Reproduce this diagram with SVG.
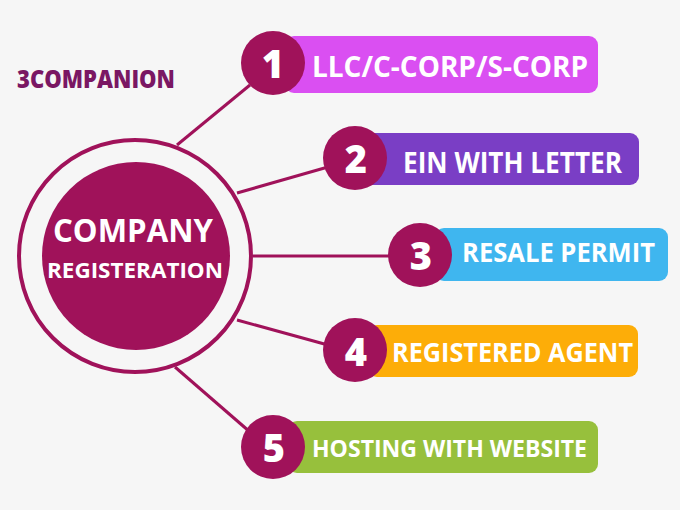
<svg xmlns="http://www.w3.org/2000/svg" width="680" height="510" viewBox="0 0 680 510">
<style>
.bg{fill:#f6f6f6}
.con{stroke:#a0125a;stroke-width:3;fill:none}
.num{fill:#a0125a}
.numt{fill:#ffffff;font-family:"Open Sans","Liberation Sans",sans-serif;font-weight:800;text-anchor:middle}
.lbl{fill:#ffffff;font-family:"Open Sans","Liberation Sans",sans-serif;font-weight:700}
.ctr{fill:#ffffff;font-family:"Open Sans","Liberation Sans",sans-serif;font-weight:700;text-anchor:middle}
</style>
<rect class="bg" x="0" y="0" width="680" height="510"/>
<text x="17" y="88" font-family="'Open Sans','Liberation Sans',sans-serif" font-weight="800" font-size="24" fill="#7a1763" textLength="158" lengthAdjust="spacingAndGlyphs">3COMPANION</text>
<g id="connectors">
<line class="con" x1="177" y1="145" x2="250" y2="85"/>
<line class="con" x1="237" y1="193" x2="328" y2="167"/>
<line class="con" x1="253" y1="256" x2="392" y2="256"/>
<line class="con" x1="237" y1="320" x2="328" y2="345"/>
<line class="con" x1="175" y1="367" x2="250" y2="432"/>
</g>
<g id="center">
<circle cx="135" cy="256" r="116" fill="none" stroke="#a0125a" stroke-width="4"/>
<circle cx="136" cy="256" r="94" fill="#a0125a"/>
<text class="ctr" x="133" y="242" font-size="32" textLength="160" lengthAdjust="spacingAndGlyphs">COMPANY</text>
<text class="ctr" x="135" y="278" font-size="21" textLength="176" lengthAdjust="spacingAndGlyphs">REGISTERATION</text>
</g>
<g id="node1">
<rect x="285" y="36" width="313" height="57" rx="9" fill="#da4ff2"/>
<circle class="num" cx="273" cy="63" r="32"/>
<text class="numt" x="273" y="78" font-size="38">1</text>
<text class="lbl" x="312" y="77" font-size="29" textLength="276" lengthAdjust="spacingAndGlyphs">LLC/C-CORP/S-CORP</text>
</g>
<g id="node2">
<rect x="340" y="133" width="299" height="52" rx="9" fill="#7a3ec5"/>
<circle class="num" cx="355" cy="158" r="32"/>
<text class="numt" x="356" y="173" font-size="38">2</text>
<text class="lbl" x="403" y="173" font-size="28" textLength="219" lengthAdjust="spacingAndGlyphs">EIN WITH LETTER</text>
</g>
<g id="node3">
<rect x="435" y="228" width="233" height="53" rx="9" fill="#3fb6ef"/>
<circle class="num" cx="420" cy="255" r="32"/>
<text class="numt" x="421" y="270" font-size="38">3</text>
<text class="lbl" x="462" y="262" font-size="26" textLength="193" lengthAdjust="spacingAndGlyphs">RESALE PERMIT</text>
</g>
<g id="node4">
<rect x="368" y="325" width="270" height="52" rx="9" fill="#fdad08"/>
<circle class="num" cx="355" cy="350" r="32"/>
<text class="numt" x="356" y="366" font-size="38">4</text>
<text class="lbl" x="392" y="362" font-size="27" textLength="241" lengthAdjust="spacingAndGlyphs">REGISTERED AGENT</text>
</g>
<g id="node5">
<rect x="288" y="421" width="310" height="52" rx="9" fill="#97c03c"/>
<circle class="num" cx="273" cy="447" r="32"/>
<text class="numt" x="274" y="462" font-size="38">5</text>
<text class="lbl" x="312" y="457" font-size="24" textLength="275" lengthAdjust="spacingAndGlyphs">HOSTING WITH WEBSITE</text>
</g>
</svg>
